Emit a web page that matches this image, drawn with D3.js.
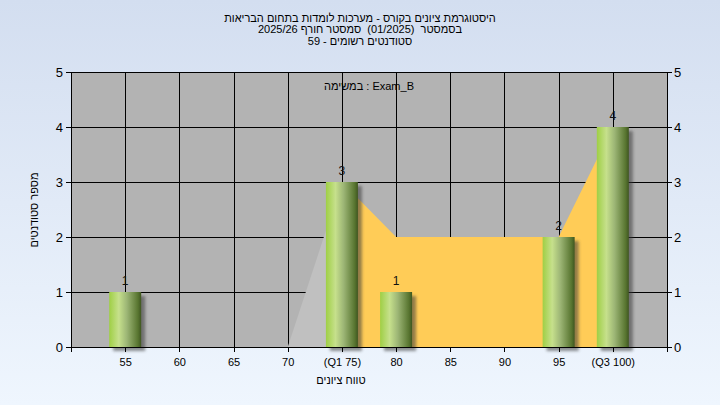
<!DOCTYPE html>
<html><head><meta charset="utf-8">
<script src="https://cdn.jsdelivr.net/npm/d3@7"></script>
<style>
html,body{margin:0;padding:0;overflow:hidden;}
svg{display:block;font-family:"Liberation Sans",Arial,sans-serif;}
text{white-space:pre;}
</style></head>
<body>
<svg id="chart" width="720" height="405"></svg>
<script>
// ---- data ----
const titleLines = [
  "היסטוגרמת ציונים בקורס - מערכות לומדות בתחום הבריאות",
  "בסמסטר  (01/2025)  סמסטר חורף 2025/26",
  "סטודנטים רשומים - 59"
];
const taskLabel = "במשימה : Exam_B";
const xTitle = "טווח ציונים";
const yTitle = "מספר סטודנטים";
const xTicks = [55, 60, 65, 70, 75, 80, 85, 90, 95, 100];
const xTickLabels = ["55", "60", "65", "70", "(Q1 75)", "80", "85", "90", "95", "(Q3 100)"];
const yTicks = [0, 1, 2, 3, 4, 5];
const barScores = [55, 75, 80, 95, 100];
const barCounts = [1, 3, 1, 2, 4];
const outerAreaScores = [70, 75];
const outerAreaValues = [0, 3];
const iqrAreaScores = [75, 80, 85, 90, 95, 100];
const iqrAreaValues = [3, 2, 2, 2, 2, 4];

// ---- layout ----
const svg = d3.select("#chart");
const W = 720, H = 405;
const L = 71, R = 667, T = 72, B = 347;

const defs = svg.append("defs");
const bg = defs.append("linearGradient").attr("id", "bg").attr("x1", 0).attr("y1", 0).attr("x2", 0).attr("y2", 1);
bg.append("stop").attr("offset", "0%").attr("stop-color", "#d3def0");
bg.append("stop").attr("offset", "100%").attr("stop-color", "#eff6fe");
const bar = defs.append("linearGradient").attr("id", "barG").attr("x1", 0).attr("y1", 0).attr("x2", 1).attr("y2", 0);
[["0%", "#9fcf45"], ["30%", "#c6e08c"], ["55%", "#9db676"], ["90%", "#587530"], ["100%", "#3f5620"]]
  .forEach(s => bar.append("stop").attr("offset", s[0]).attr("stop-color", s[1]));
const f = defs.append("filter").attr("id", "shadow").attr("x", "-30%").attr("y", "-30%").attr("width", "160%").attr("height", "160%");
f.append("feGaussianBlur").attr("stdDeviation", 1.6);

svg.append("rect").attr("width", W).attr("height", H).attr("fill", "url(#bg)");

const x = d3.scaleLinear().domain([50, 105]).range([L, R]);
const y = d3.scaleLinear().domain([0, 5]).range([B, T]);

// plot background
svg.append("rect").attr("x", L).attr("y", T).attr("width", R - L).attr("height", B - T).attr("fill", "#b3b3b3");

// grid
const grid = svg.append("g").attr("stroke", "#000").attr("stroke-width", 1).attr("shape-rendering", "crispEdges");
grid.selectAll(".gx").data(xTicks).join("line")
  .attr("x1", d => Math.round(x(d)) + 0.5).attr("x2", d => Math.round(x(d)) + 0.5).attr("y1", T).attr("y2", B);
grid.selectAll(".gy").data(yTicks).join("line")
  .attr("x1", L).attr("x2", R).attr("y1", d => Math.round(y(d)) + 0.5).attr("y2", d => Math.round(y(d)) + 0.5);

// areas
const area = d3.area().x(d => x(d[0])).y0(y(0)).y1(d => y(d[1]));
svg.append("path").datum(outerAreaScores.map((s, i) => [s, outerAreaValues[i]]))
  .attr("d", area).attr("fill", "#c0c0c0");
svg.append("path").datum(iqrAreaScores.map((s, i) => [s, iqrAreaValues[i]]))
  .attr("d", area).attr("fill", "#ffcc57");

// bars
const bw = 32;
svg.append("g").selectAll("rect").data(barScores).join("rect")
  .attr("x", d => x(d) - bw / 2 + 4).attr("y", (d, i) => y(barCounts[i]) + 4)
  .attr("width", bw).attr("height", (d, i) => y(0) - y(barCounts[i]))
  .attr("fill", "#3a3a3a").attr("opacity", 0.55).attr("filter", "url(#shadow)");
svg.append("g").selectAll("rect").data(barScores).join("rect")
  .attr("x", d => x(d) - bw / 2).attr("y", (d, i) => y(barCounts[i]))
  .attr("width", bw).attr("height", (d, i) => y(0) - y(barCounts[i]))
  .attr("fill", "url(#barG)");
svg.append("g").selectAll("text").data(barScores).join("text")
  .attr("x", d => x(d)).attr("y", (d, i) => y(barCounts[i]) - 7)
  .attr("text-anchor", "middle").attr("font-size", 12).attr("fill", "#111")
  .text((d, i) => barCounts[i]);

// axes
const xAxis = d3.axisBottom(x).tickValues(xTicks).tickFormat((d, i) => xTickLabels[i]).tickSize(5).tickSizeOuter(5);
const gx = svg.append("g").attr("transform", `translate(0,${B})`).call(xAxis);
const yAxisL = d3.axisLeft(y).tickValues(yTicks).tickFormat(d3.format("d")).tickSize(5).tickSizeOuter(0);
const gyl = svg.append("g").attr("transform", `translate(${L},0)`).call(yAxisL);
const yAxisR = d3.axisRight(y).tickValues(yTicks).tickFormat(d3.format("d")).tickSize(5).tickSizeOuter(0);
const gyr = svg.append("g").attr("transform", `translate(${R},0)`).call(yAxisR);
[gx, gyl, gyr].forEach(g => {
  g.attr("font-family", null).attr("font-size", null);
  g.selectAll("path,line").attr("stroke", "#000").attr("shape-rendering", "crispEdges");
  g.selectAll("text").attr("fill", "#000");
});
gx.selectAll("text").attr("dy", null).attr("y", 19).attr("font-size", 11);
gyl.selectAll("text").attr("x", -8).attr("font-size", 13);
gyr.selectAll("text").attr("x", 7).attr("font-size", 13);

// titles
svg.append("g").selectAll("text").data(titleLines).join("text")
  .attr("x", 360).attr("y", (d, i) => 21.5 + i * 11.7)
  .attr("text-anchor", "middle").attr("direction", "rtl").attr("font-size", 11).attr("fill", "#000")
  .text(d => d);
svg.append("text").attr("x", 369).attr("y", 90).attr("text-anchor", "middle")
  .attr("direction", "ltr").attr("font-size", 11).attr("fill", "#000").text(taskLabel);
svg.append("text").attr("x", 341).attr("y", 384).attr("text-anchor", "middle")
  .attr("direction", "rtl").attr("font-size", 11).attr("fill", "#000").text(xTitle);
svg.append("text").attr("transform", "translate(38,210) rotate(-90)").attr("text-anchor", "middle")
  .attr("direction", "rtl").attr("font-size", 11).attr("fill", "#000").text(yTitle);
</script>
</body></html>
